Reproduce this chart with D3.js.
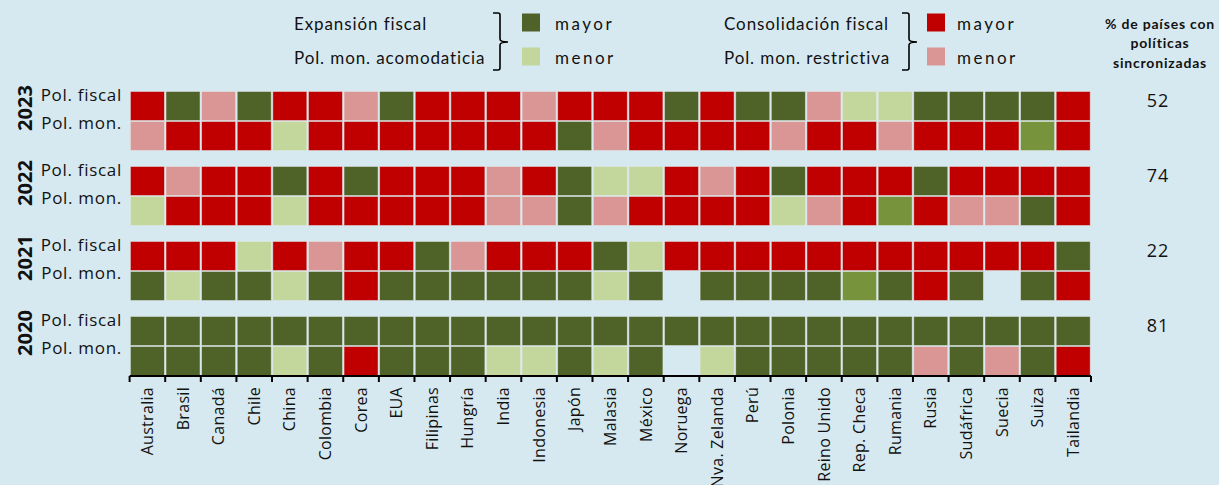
<!DOCTYPE html>
<meta charset="utf-8">
<script src="https://d3js.org/d3.v7.min.js"></script>

<style>
body { margin: 0; background: #d7e9f0; }
text { font-family: "Open Sans", sans-serif; fill: #111; }
.legend text { font-family: Lato, sans-serif; letter-spacing: 0.9px; }
</style>

<div id="chart"></div>

<script>
  // Data (codes: D = expansion mayor, L = expansion menor, R = consolidacion mayor,
  // P = consolidacion menor, M = verde intermedio, "" = sin dato)
  var countries = ["Australia", "Brasil", "Canadá", "Chile", "China", "Colombia", "Corea", "EUA",
                   "Filipinas", "Hungría", "India", "Indonesia", "Japón", "Malasia", "México",
                   "Noruega", "Nva. Zelanda", "Perú", "Polonia", "Reino Unido", "Rep. Checa",
                   "Rumania", "Rusia", "Sudáfrica", "Suecia", "Suiza", "Tailandia"];
  var years = ["2023", "2022", "2021", "2020"];
  var policies = ["Pol. fiscal", "Pol. mon."];
  var shares = [52, 74, 22, 81];

  var fiscal2023 = ["R","D","P","D","R","R","P","D","R","R","R","P","R","R","R","D","R","D","D","P","L","L","D","D","D","D","R"];
  var mon2023    = ["P","R","R","R","L","R","R","R","R","R","R","R","D","P","R","R","R","R","P","R","R","P","R","R","R","M","R"];
  var fiscal2022 = ["R","P","R","R","D","R","D","R","R","R","P","R","D","L","L","R","P","R","D","R","R","R","D","R","R","R","R"];
  var mon2022    = ["L","R","R","R","L","R","R","R","R","R","P","P","D","P","R","R","R","R","L","P","R","M","R","P","P","D","R"];
  var fiscal2021 = ["R","R","R","L","R","P","R","R","D","P","R","R","R","D","L","R","R","R","R","R","R","R","R","R","R","R","D"];
  var mon2021    = ["D","L","D","D","L","D","R","D","D","D","D","D","D","L","D","","D","D","D","D","M","D","R","D","","D","R"];
  var fiscal2020 = ["D","D","D","D","D","D","D","D","D","D","D","D","D","D","D","D","D","D","D","D","D","D","D","D","D","D","D"];
  var mon2020    = ["D","D","D","D","L","D","R","D","D","D","L","L","D","L","D","","L","D","D","D","D","D","P","D","P","D","R"];

  var series = {
    "2023": [fiscal2023, mon2023],
    "2022": [fiscal2022, mon2022],
    "2021": [fiscal2021, mon2021],
    "2020": [fiscal2020, mon2020]
  };

  var colors = { D: "#4f6228", L: "#c3d69b", R: "#c00000", P: "#d99694", M: "#77933c" };

  // Boilerplate
  var width = 1219, height = 485;
  var svg = d3.select("#chart")
              .append("svg")
              .attr("width", width)
              .attr("height", height);

  // Scales
  var x = d3.scaleBand()
            .domain(countries)
            .range([129.6, 1091]);

  var y = d3.scaleBand()
            .domain(years)
            .range([91, 376])
            .paddingInner(0.2);

  var row = d3.scaleBand()
              .domain(policies)
              .range([0, y.bandwidth()]);

  // Cells
  var cells = [];
  years.forEach(function (yr) {
    series[yr].forEach(function (arr, p) {
      arr.forEach(function (code, i) {
        if (code) cells.push({ year: yr, policy: policies[p], country: countries[i], code: code });
      });
    });
  });

  svg.append("g")
     .selectAll("rect")
     .data(cells)
     .enter()
     .append("rect")
     .attr("x", function (d) { return x(d.country) + 0.8; })
     .attr("y", function (d) { return y(d.year) + row(d.policy) + 0.5; })
     .attr("width", x.bandwidth() - 1.6)
     .attr("height", row.bandwidth() - 1)
     .attr("fill", function (d) { return colors[d.code]; })
     .attr("stroke", "#e3ecec")
     .attr("stroke-opacity", 0.6)
     .attr("stroke-width", 0.8);

  // Row labels
  var rows = svg.append("g")
                .selectAll("g")
                .data(years)
                .enter()
                .append("g")
                .attr("transform", function (d) { return "translate(0," + y(d) + ")"; });

  rows.append("text")
      .attr("transform", "translate(24,17) rotate(-90)")
      .attr("text-anchor", "middle")
      .attr("dominant-baseline", "central")
      .style("font-weight", "bold")
      .style("font-size", "20px")
      .text(function (d) { return d; });

  rows.append("text")
      .attr("x", 122)
      .attr("y", 3)
      .attr("text-anchor", "end")
      .attr("dominant-baseline", "central")
      .style("font-size", "17px")
      .style("letter-spacing", "0.7px")
      .text(policies[0]);

  rows.append("text")
      .attr("x", 122)
      .attr("y", 31)
      .attr("text-anchor", "end")
      .attr("dominant-baseline", "central")
      .style("font-size", "17px")
      .style("letter-spacing", "0.7px")
      .text(policies[1]);

  rows.append("text")
      .attr("x", 1158)
      .attr("y", 9)
      .attr("text-anchor", "middle")
      .attr("dominant-baseline", "central")
      .style("font-size", "18px")
      .style("letter-spacing", "1px")
      .text(function (d, i) { return shares[i]; });

  // Axis
  var axisY = 376;
  var axis = svg.append("g")
                .attr("transform", "translate(0," + axisY + ")")
                .call(d3.axisBottom(x).tickSize(0).tickPadding(0));
  axis.select(".domain")
      .attr("stroke", "#000")
      .attr("stroke-width", 2)
      .attr("d", "M" + x.range()[0] + ",0H" + x.range()[1]);
  axis.selectAll(".tick text")
      .attr("transform", "translate(0,11) rotate(-90)")
      .attr("text-anchor", "end")
      .attr("x", 0)
      .attr("y", 0)
      .attr("dy", "0.35em")
      .style("font-size", "16px")
      .style("letter-spacing", "0.3px")
      .style("fill", "#111")
      .style("font-family", "'Open Sans', sans-serif");

  // Tick marks between categories
  var edges = countries.map(function (c) { return x(c); }).concat([x.range()[1]]);
  axis.selectAll(".edge")
      .data(edges)
      .enter()
      .append("line")
      .attr("class", "edge")
      .attr("x1", function (d) { return d; })
      .attr("x2", function (d) { return d; })
      .attr("y1", 0)
      .attr("y2", 6)
      .attr("stroke", "#000")
      .attr("stroke-width", 2);

  // Legend
  var legend = svg.append("g").attr("class", "legend");
  var groups = [
    { x: 294, labels: ["Expansión fiscal", "Pol. mon. acomodaticia"], brace: 500, sq: 522, txt: 555, cols: ["D", "L"] },
    { x: 724, labels: ["Consolidación fiscal", "Pol. mon. restrictiva"], brace: 909, sq: 927, txt: 957, cols: ["R", "P"] }
  ];
  var keys = ["mayor", "menor"];
  var lineY = [23, 57];

  groups.forEach(function (g) {
    g.labels.forEach(function (l, i) {
      legend.append("text")
            .attr("x", g.x)
            .attr("y", lineY[i])
            .attr("dominant-baseline", "central")
            .style("font-size", "17px")
            .text(l);
      legend.append("rect")
            .attr("x", g.sq)
            .attr("y", lineY[i] - 9.5)
            .attr("width", 18)
            .attr("height", 18)
            .attr("fill", colors[g.cols[i]]);
      legend.append("text")
            .attr("x", g.txt)
            .attr("y", lineY[i])
            .attr("dominant-baseline", "central")
            .style("font-size", "17px")
            .style("letter-spacing", "2.5px")
            .text(keys[i]);
    });
    var b = g.brace;
    legend.append("path")
          .attr("d", "M" + (b - 7) + ",13 H" + (b - 2) + " Q" + b + ",13 " + b + ",15 V39 Q" + b + ",42 " + (b + 8) + ",42" +
                     " Q" + b + ",42 " + b + ",45 V68 Q" + b + ",70 " + (b - 2) + ",70 H" + (b - 7))
          .attr("fill", "none")
          .attr("stroke", "#000")
          .attr("stroke-width", 1.6);
  });

  legend.selectAll(".share")
        .data(["% de países con", "políticas", "sincronizadas"])
        .enter()
        .append("text")
        .attr("x", 1160)
        .attr("y", function (d, i) { return [23, 42, 62][i]; })
        .attr("text-anchor", "middle")
        .attr("dominant-baseline", "central")
        .style("font-weight", "bold")
        .style("font-size", "14px")
        .style("letter-spacing", "0.8px")
        .text(function (d) { return d; });
</script>
